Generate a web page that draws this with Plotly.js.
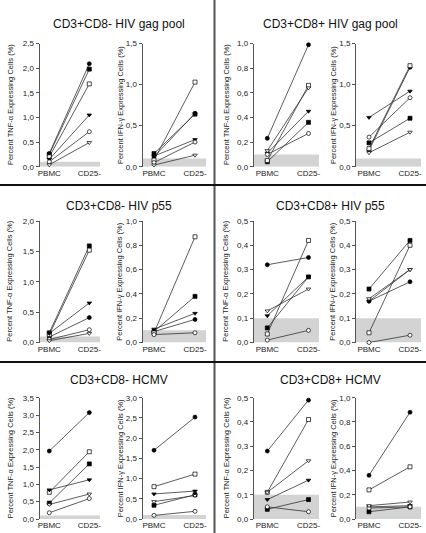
<!DOCTYPE html>
<html><head><meta charset="utf-8">
<script src="https://cdn.plot.ly/plotly-3.0.1.min.js"></script>
<style>html,body{margin:0;padding:0;background:#fff}#chart{width:426px;height:533px}</style>
</head><body><div id="chart"></div>
<script>
// ---------- DATA ----------
const categories = ['PBMC', 'CD25-'];
const panelTitles = ['CD3+CD8- HIV gag pool', 'CD3+CD8+ HIV gag pool', 'CD3+CD8- HIV p55', 'CD3+CD8+ HIV p55', 'CD3+CD8- HCMV', 'CD3+CD8+ HCMV'];
const measureTitles = ['Percent TNF-\u03b1 Expressing Cells (%)', 'Percent IFN-\u03b3 Expressing Cells (%)'];
const donors = ['Donor 1', 'Donor 2', 'Donor 3', 'Donor 4', 'Donor 5', 'Donor 6'];

// donor order: filled circle, filled square, open square, filled triangle, open circle, open triangle
const gagNeg_TNF_PBMC = [0.27, 0.25, 0.20, 0.15, 0.10, 0.04];
const gagNeg_TNF_CD25 = [2.09, 1.98, 1.68, 1.05, 0.71, 0.49];
const gagNeg_IFN_PBMC = [0.12, 0.16, 0.08, 0.13, 0.05, 0.02];
const gagNeg_IFN_CD25 = [0.65, 0.64, 1.03, 0.33, 0.30, 0.14];

const gagPos_TNF_PBMC = [0.23, 0.04, 0.05, 0.11, 0.10, 0.13];
const gagPos_TNF_CD25 = [0.99, 0.36, 0.66, 0.45, 0.27, 0.64];
const gagPos_IFN_PBMC = [0.20, 0.29, 0.22, 0.60, 0.36, 0.17];
const gagPos_IFN_CD25 = [1.21, 0.59, 1.23, 0.92, 0.84, 0.42];

const p55Neg_TNF_PBMC = [0.09, 0.16, 0.13, 0.15, 0.05, 0.03];
const p55Neg_TNF_CD25 = [0.41, 1.59, 1.52, 0.65, 0.21, 0.15];
const p55Neg_IFN_PBMC = [0.09, 0.09, 0.08, 0.11, 0.065, null];
const p55Neg_IFN_CD25 = [0.19, 0.38, 0.87, 0.24, 0.08, null];

const p55Pos_TNF_PBMC = [0.32, 0.06, 0.035, 0.11, 0.01, 0.13];
const p55Pos_TNF_CD25 = [0.35, 0.27, 0.42, 0.27, 0.05, 0.22];
const p55Pos_IFN_PBMC = [0.17, 0.22, 0.04, 0.17, 0.00, 0.18];
const p55Pos_IFN_CD25 = [0.25, 0.42, 0.40, 0.30, 0.03, 0.30];

const hcmvNeg_TNF_PBMC = [1.96, 0.46, 0.77, 0.84, 0.18, 0.42];
const hcmvNeg_TNF_CD25 = [3.07, 1.59, 1.94, 1.13, 0.59, 0.72];
const hcmvNeg_IFN_PBMC = [1.70, 0.34, 0.80, 0.62, 0.09, 0.43];
const hcmvNeg_IFN_CD25 = [2.52, 0.60, 1.11, 0.69, 0.19, 0.58];

const hcmvPos_TNF_PBMC = [0.28, 0.04, 0.11, 0.08, 0.05, 0.11];
const hcmvPos_TNF_CD25 = [0.49, 0.08, 0.41, 0.16, 0.03, 0.24];
const hcmvPos_IFN_PBMC = [0.36, 0.06, 0.24, 0.10, 0.09, 0.11];
const hcmvPos_IFN_CD25 = [0.88, 0.10, 0.43, 0.11, 0.10, 0.14];

const yMax  = [[2.5, 1.5], [1.0, 1.5], [2.0, 1.0], [0.5, 0.5], [3.5, 3.0], [0.5, 1.0]];
const yStep = [[0.5, 0.5], [0.2, 0.5], [0.5, 0.2], [0.1, 0.1], [0.5, 0.5], [0.1, 0.2]];
const bandTop = 0.1;

// ---------- STYLE / GEOMETRY ----------
const W = 426, H = 533;
const FONT = 'Liberation Sans, Arial, sans-serif';
const colGeom = [
  [{axis: 39.5, p: 49.3, c: 89.3, end: 100}, {axis: 142.5, p: 154, c: 195, end: 206}],
  [{axis: 253.7, p: 267.3, c: 308.5, end: 319}, {axis: 356, p: 369, c: 410, end: 421}]
];
const rowGeom = [{top: 43.5, zero: 166.7}, {top: 221, zero: 342.5}, {top: 397.7, zero: 519}];
const titleY = [24, 206, 380];
const titleX = [119, 330];
const yTitleX = [[10, 120], [226, 333]];
const markerStyles = [
  {symbol: 'circle', color: '#000'},
  {symbol: 'square', color: '#000'},
  {symbol: 'square', color: '#fff'},
  {symbol: 'triangle-down', color: '#000'},
  {symbol: 'circle', color: '#fff'},
  {symbol: 'triangle-down', color: '#fff'}
];

const panels = [
  [[gagNeg_TNF_PBMC, gagNeg_TNF_CD25], [gagNeg_IFN_PBMC, gagNeg_IFN_CD25]],
  [[gagPos_TNF_PBMC, gagPos_TNF_CD25], [gagPos_IFN_PBMC, gagPos_IFN_CD25]],
  [[p55Neg_TNF_PBMC, p55Neg_TNF_CD25], [p55Neg_IFN_PBMC, p55Neg_IFN_CD25]],
  [[p55Pos_TNF_PBMC, p55Pos_TNF_CD25], [p55Pos_IFN_PBMC, p55Pos_IFN_CD25]],
  [[hcmvNeg_TNF_PBMC, hcmvNeg_TNF_CD25], [hcmvNeg_IFN_PBMC, hcmvNeg_IFN_CD25]],
  [[hcmvPos_TNF_PBMC, hcmvPos_TNF_CD25], [hcmvPos_IFN_PBMC, hcmvPos_IFN_CD25]]
];

const traces = [];
const layout = {
  width: W, height: H,
  margin: {l: 0, r: 0, t: 0, b: 0},
  paper_bgcolor: '#fff', plot_bgcolor: 'rgba(0,0,0,0)',
  separators: ',.',
  showlegend: false,
  font: {family: FONT, color: '#222'},
  shapes: [], annotations: []
};

panels.forEach((panel, i) => {
  const row = Math.floor(i / 2), col = i % 2;
  const rg = rowGeom[row];
  layout.annotations.push({
    xref: 'paper', yref: 'paper', x: titleX[col] / W, y: 1 - titleY[row] / H,
    xanchor: 'center', yanchor: 'middle', showarrow: false,
    text: panelTitles[i], font: {size: 12, color: '#111', family: FONT}
  });
  panel.forEach((series, m) => {
    const n = i * 2 + m + 1;
    const sfx = n === 1 ? '' : String(n);
    const g = colGeom[col][m];
    const span = g.c - g.p;
    layout['xaxis' + sfx] = {
      domain: [g.axis / W, g.end / W], anchor: 'y' + sfx, type: 'category',
      range: [(g.axis - g.p) / span, (g.end - g.p) / span],
      showline: false, showgrid: false, zeroline: false, ticks: '',
      tickfont: {size: 8, color: '#222', family: FONT}, fixedrange: true
    };
    layout['yaxis' + sfx] = {
      domain: [1 - rg.zero / H, 1 - rg.top / H], anchor: 'x' + sfx,
      range: [0, yMax[i][m]], tick0: 0, dtick: yStep[i][m], tickformat: '.1f',
      showline: true, linecolor: '#555', linewidth: 1,
      ticks: 'outside', ticklen: 3, tickwidth: 1, tickcolor: '#555',
      showgrid: false, zeroline: false,
      tickfont: {size: 8, color: '#222', family: FONT}, fixedrange: true
    };
    layout.shapes.push({
      type: 'rect', xref: 'x' + sfx + ' domain', yref: 'y' + sfx,
      x0: 0, x1: 1, y0: 0, y1: bandTop,
      fillcolor: '#d3d3d3', line: {width: 0}, layer: 'below'
    });
    layout.annotations.push({
      xref: 'paper', yref: 'paper', x: yTitleX[col][m] / W, y: 1 - ((rg.top + rg.zero) / 2) / H,
      xanchor: 'center', yanchor: 'middle', textangle: -90, showarrow: false,
      text: measureTitles[m], font: {size: 7.5, color: '#222', family: FONT}
    });
    const [pb, cd] = series;
    donors.forEach((d, k) => {
      if (pb[k] === null && cd[k] === null) return;
      const ms = markerStyles[k];
      traces.push({
        x: categories, y: [pb[k], cd[k]], name: d,
        xaxis: 'x' + sfx, yaxis: 'y' + sfx,
        type: 'scatter', mode: 'lines+markers', cliponaxis: false,
        line: {color: '#333', width: 0.8},
        marker: {symbol: ms.symbol, color: ms.color, size: 4, line: {color: '#000', width: 0.7}},
        hoverinfo: 'skip'
      });
    });
  });
});

// panel dividers
layout.shapes.push({type: 'line', xref: 'paper', yref: 'paper', x0: 214.5 / W, x1: 214.5 / W, y0: 0, y1: 1, line: {color: '#555', width: 2}});
[185, 362].forEach(py => layout.shapes.push({type: 'line', xref: 'paper', yref: 'paper', x0: 0, x1: 1, y0: 1 - py / H, y1: 1 - py / H, line: {color: '#111', width: 2}}));

Plotly.newPlot('chart', traces, layout, {staticPlot: true, displayModeBar: false});
</script>
</body></html>
